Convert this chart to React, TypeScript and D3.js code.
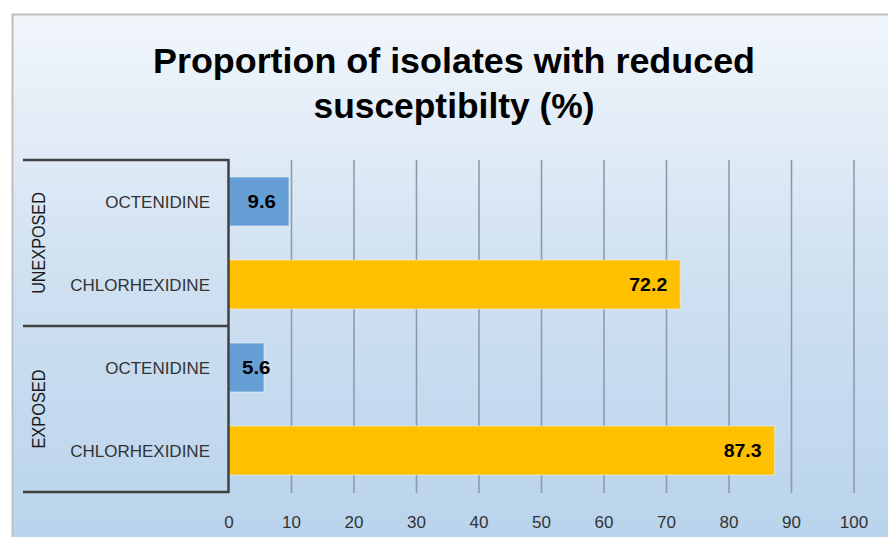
import * as d3 from 'd3'

const groups = ['UNEXPOSED', 'EXPOSED']
const agents = ['OCTENIDINE', 'CHLORHEXIDINE']
const unexposedValues = [9.6, 72.2]
const exposedValues = [5.6, 87.3]
const xTicks = [0, 10, 20, 30, 40, 50, 60, 70, 80, 90, 100]
const titleLines = ['Proportion of isolates with reduced', 'susceptibilty (%)']

const WIDTH = 888
const HEIGHT = 537
const FONT = "'Liberation Sans', Arial, sans-serif"

type Row = { key: string; group: string; agent: string; value: number }

const rows: Row[] = []
groups.forEach((g, gi) => {
  const vals = gi === 0 ? unexposedValues : exposedValues
  agents.forEach((a, ai) => {
    rows.push({ key: g + '|' + a, group: g, agent: a, value: vals[ai] })
  })
})

export default function App() {
  const margin = { top: 160, left: 229, right: 34, bottom: 45 }
  const plotRight = WIDTH - margin.right
  const plotBottom = HEIGHT - margin.bottom

  const x = d3.scaleLinear().domain([0, 100]).range([margin.left, plotRight])
  const y = d3.scaleBand<string>()
    .domain(rows.map(r => r.key))
    .range([margin.top, plotBottom])
    .paddingInner(0.41)
    .paddingOuter(0.205)
  const gy = d3.scaleBand<string>().domain(groups).range([margin.top, plotBottom])

  const color = d3.scaleOrdinal<string, string>().domain(agents).range(['#659fd6', '#ffc000'])

  const groupEdges = [margin.top, ...groups.map(g => (gy(g) as number) + gy.bandwidth())]

  // data label: inside end, but never closer than 13px to the axis
  const labelW = (s: string) => s.length * 9.5
  const labelX = (v: number) => {
    const s = v.toFixed(1)
    return Math.max(x(v) - 13 - labelW(s), x(0) + 13)
  }

  return (
    <svg width={WIDTH} height={HEIGHT} style={{ position: 'absolute', left: 0, top: 0 }}
      fontFamily={FONT}>
      <defs>
        <linearGradient id="bg" x1="0" y1="0" x2="0" y2="1">
          <stop offset="0" stopColor="#f1f6fb" />
          <stop offset="0.5" stopColor="#cfe0f1" />
          <stop offset="1" stopColor="#b8d3ec" />
        </linearGradient>
      </defs>
      <rect x={0} y={0} width={WIDTH} height={HEIGHT} fill="#ffffff" />
      <rect x={12.5} y={14.5} width={WIDTH} height={HEIGHT} fill="url(#bg)" stroke="#bfbfbf" strokeWidth={2} />

      {titleLines.map((t, i) => (
        <text key={t} x={454} y={73 + i * 45} textAnchor="middle" fontSize={35} fontWeight="bold"
          fill="#000" textLength={i === 0 ? 602 : 281} lengthAdjust="spacingAndGlyphs">{t}</text>
      ))}

      {xTicks.filter(t => t > 0).map(t => (
        <line key={'g' + t} x1={x(t)} x2={x(t)} y1={margin.top} y2={plotBottom + 1}
          stroke="#8c9bac" strokeWidth={1.6} />
      ))}

      {rows.map(r => {
        const cy = (y(r.key) as number) + y.bandwidth() / 2
        const s = r.value.toFixed(1)
        return (
          <g key={r.key}>
            <rect x={x(0)} y={y(r.key)} width={x(r.value) - x(0)} height={y.bandwidth()}
              fill={color(r.agent)} stroke="#f2f2f2" strokeOpacity={0.6} strokeWidth={1} />
            <text x={labelX(r.value)} y={cy + 6.5} textAnchor="start" fontSize={18} fontWeight="bold"
              fill="#000" textLength={labelW(s)} lengthAdjust="spacingAndGlyphs">{s}</text>
            <text x={210} y={cy + 6} textAnchor="end" fontSize={17} fill="#333">{r.agent}</text>
          </g>
        )
      })}

      {groupEdges.map((e, i) => (
        <line key={'e' + i} x1={23} x2={229} y1={e} y2={e} stroke="#404040" strokeWidth={2.5} />
      ))}
      <line x1={228.5} x2={228.5} y1={margin.top - 1} y2={plotBottom + 1} stroke="#404040" strokeWidth={2.5} />

      {groups.map(g => (
        <text key={g} transform={`translate(45,${(gy(g) as number) + gy.bandwidth() / 2}) rotate(-90)`}
          textAnchor="middle" fontSize={18} fill="#1a1a1a"
          textLength={g.length * 11.3} lengthAdjust="spacingAndGlyphs">{g}</text>
      ))}

      {xTicks.map(t => (
        <text key={'t' + t} x={x(t)} y={528} textAnchor="middle" fontSize={17} fill="#333">{t}</text>
      ))}
    </svg>
  )
}
